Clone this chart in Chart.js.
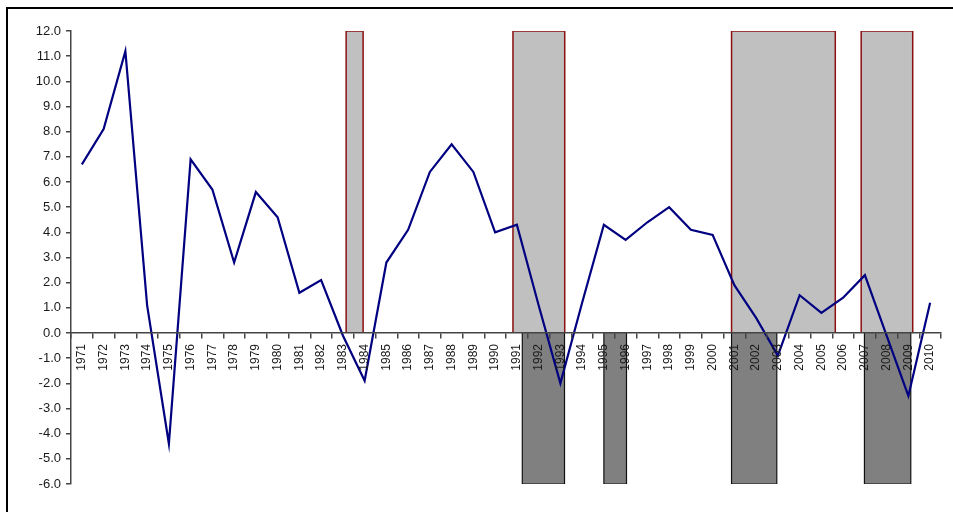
<!DOCTYPE html>
<html>
<head>
<meta charset="utf-8">
<script src="https://cdn.jsdelivr.net/npm/chart.js@4/dist/chart.umd.min.js"></script>
<style>
  html, body { margin: 0; padding: 0; background: #fff; }
  #wrap { position: relative; width: 953px; height: 512px; overflow: hidden; }
  #frame { position: absolute; left: 6px; top: 7px; right: -10px; bottom: -10px;
           border-left: 2px solid #000; border-top: 2px solid #000; }
  canvas { position: absolute; left: 0; top: 0; }
</style>
</head>
<body>
<div id="wrap">
  <div id="frame"></div>
  <canvas id="chart" width="953" height="512"></canvas>
</div>
<script>
// Years on the category axis
const years = ['1971','1972','1973','1974','1975','1976','1977','1978','1979','1980',
               '1981','1982','1983','1984','1985','1986','1987','1988','1989','1990',
               '1991','1992','1993','1994','1995','1996','1997','1998','1999','2000',
               '2001','2002','2003','2004','2005','2006','2007','2008','2009','2010'];

// Annual growth rate (%)
const growth = [6.7, 8.1, 11.2, 1.1, -4.4, 6.9, 5.7, 2.8, 5.6, 4.6,
                1.6, 2.1, -0.1, -1.9, 2.8, 4.1, 6.4, 7.5, 6.4, 4.0,
                4.3, 1.1, -2.0, 1.2, 4.3, 3.7, 4.4, 5.0, 4.1, 3.9,
                1.9, 0.6, -0.9, 1.5, 0.8, 1.4, 2.3, -0.1, -2.5, 1.2];

// Shaded periods, in year units (year centre = integer)
const upperPeriods = [[1983.15, 1983.93], [1990.82, 1993.20], [2000.87, 2005.64], [2006.83, 2009.20]];
const lowerPeriods = [[1991.25, 1993.19], [1995.00, 1996.04], [2000.87, 2002.95], [2006.98, 2009.11]];
const upperLevel = 12;
const lowerLevel = -6;

// Y axis range
const yMin = -6, yMax = 12;

// Turn periods into rectangles (split by null gaps) for a filled line
function periodShapes(periods, level) {
  const pts = [];
  periods.forEach(([a, b], i) => {
    if (i > 0) pts.push({ x: (periods[i - 1][1] + a) / 2, y: null });
    pts.push({ x: a, y: 0 }, { x: a, y: level }, { x: b, y: level }, { x: b, y: 0 });
  });
  return pts;
}

const axisColor = '#444';
const fontFamily = '"Liberation Sans", Arial, sans-serif';

new Chart(document.getElementById('chart'), {
  type: 'line',
  data: {
    labels: years,
    datasets: [
      {
        // growth line, drawn on top of the shading
        data: growth,
        xAxisID: 'x',
        borderColor: '#000080',
        borderWidth: 2.2,
        pointRadius: 0,
        tension: 0,
        fill: false
      },
      {
        data: periodShapes(lowerPeriods, lowerLevel),
        xAxisID: 'xs',
        borderColor: '#111',
        borderWidth: 1.2,
        backgroundColor: '#808080',
        pointRadius: 0,
        tension: 0,
        fill: 'origin',
        spanGaps: false
      },
      {
        data: periodShapes(upperPeriods, upperLevel),
        xAxisID: 'xs',
        borderColor: '#8b1010',
        borderWidth: 1.5,
        backgroundColor: '#c0c0c0',
        pointRadius: 0,
        tension: 0,
        fill: 'origin',
        spanGaps: false
      }
    ]
  },
  options: {
    responsive: false,
    animation: false,
    events: [],
    layout: { padding: { left: 0, top: 31, right: 12, bottom: 28 } },
    plugins: { legend: { display: false }, tooltip: { enabled: false }, title: { display: false } },
    scales: {
      x: {
        type: 'category',
        position: { y: 0 },
        offset: true,
        grid: { drawOnChartArea: false, drawTicks: true, tickLength: 5, offset: true,
                color: axisColor, lineWidth: 1.5, z: 1 },
        border: { display: true, color: axisColor, width: 1.5, z: 1 },
        ticks: { autoSkip: false, minRotation: 90, maxRotation: 90, padding: 6, z: 1,
                 color: '#1a1a1a', font: { family: fontFamily, size: 12 } }
      },
      xs: {
        type: 'linear',
        display: false,
        min: 1970.5,
        max: 2010.5
      },
      y: {
        type: 'linear',
        position: 'left',
        min: yMin,
        max: yMax,
        afterFit: (scale) => { scale.width = 71; },
        grid: { drawOnChartArea: false, drawTicks: true, tickLength: 5, color: axisColor, lineWidth: 1.5 },
        border: { display: true, color: axisColor, width: 1.5 },
        ticks: { stepSize: 1, padding: 5, color: '#1a1a1a', font: { family: fontFamily, size: 13 },
                 callback: (v) => Number(v).toFixed(1) }
      }
    }
  }
});
</script>
</body>
</html>
